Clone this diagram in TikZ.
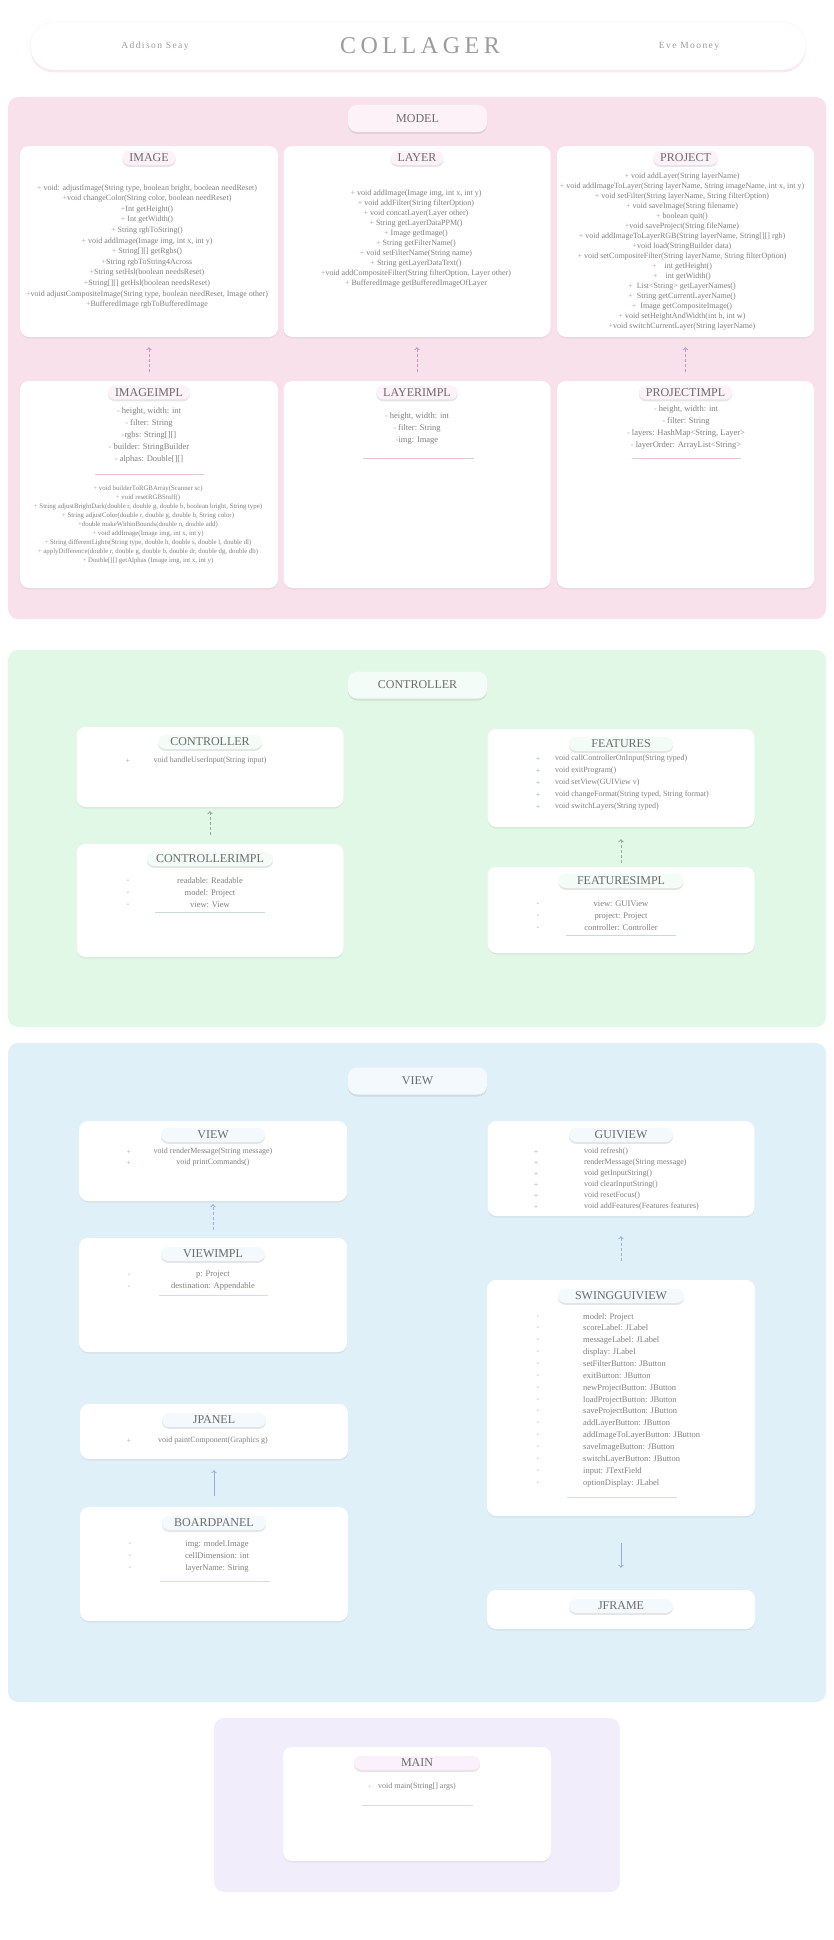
\documentclass[tikz,border=0pt]{standalone}
\usepackage{fontspec}
\setmainfont{Liberation Serif}
\newfontfamily\spacedfont[LetterSpace=19]{Liberation Serif}
\newfontfamily\authorfont[LetterSpace=15]{Liberation Serif}
\usepackage{xcolor}
\usetikzlibrary{shapes.geometric,arrows,shadows}

\definecolor{modelbg}{HTML}{F9E1EC}
\definecolor{modelpill}{HTML}{FDF2F8}
\definecolor{modelmark}{HTML}{C295BE}
\definecolor{modelline}{HTML}{E2C6DE}
\definecolor{ctrlbg}{HTML}{E1F8E6}
\definecolor{ctrlpill}{HTML}{F4FCF7}
\definecolor{ctrlmark}{HTML}{8DB099}
\definecolor{ctrlline}{HTML}{C9DCD3}
\definecolor{viewbg}{HTML}{E0F0F9}
\definecolor{viewpill}{HTML}{F4F9FD}
\definecolor{viewmark}{HTML}{9AABE6}
\definecolor{viewline}{HTML}{D6DCEF}
\definecolor{mainbg}{HTML}{F1EDFB}
\definecolor{mainpill}{HTML}{FAF1FC}
\definecolor{mainmark}{HTML}{D7C2F2}
\definecolor{mainline}{HTML}{E3D6EC}
\definecolor{textgrey}{HTML}{808080}
\definecolor{titlegrey}{HTML}{6B6B6B}
\definecolor{headgrey}{HTML}{9C9C9C}

\newcommand\pubmark{\textcolor{modelmark}{+}}
\newcommand\privmark{\textcolor{modelmark}{-}}

\tikzstyle{headerbox}=[rectangle,rounded corners=24pt,fill=white,draw=modelbg!50,minimum width=776pt,minimum height=48pt,drop shadow={fill=modelbg,opacity=0.8,shadow xshift=0pt,shadow yshift=-2.5pt}]
\tikzstyle{authorname}=[text=headgrey,font=\authorfont\fontsize{9.5}{9.5}\selectfont]
\tikzstyle{section}=[rectangle,rounded corners=10pt,inner sep=0pt]
\tikzstyle{sectionlabel}=[rectangle,rounded corners=9pt,minimum width=139pt,minimum height=27pt,inner sep=0pt,text=titlegrey,font=\fontsize{12}{12}\selectfont,drop shadow={opacity=0.18,shadow xshift=0pt,shadow yshift=-2pt}]
\tikzstyle{classbox}=[rectangle,rounded corners=9pt,fill=white,inner sep=0pt,drop shadow={opacity=0.12,shadow xshift=0pt,shadow yshift=-1.5pt}]
\tikzstyle{classname}=[rectangle,rounded corners=7pt,minimum height=14pt,inner xsep=7pt,inner ysep=0pt,text=titlegrey,font=\fontsize{12}{12}\selectfont,drop shadow={opacity=0.2,shadow xshift=0pt,shadow yshift=-2pt}]
\tikzstyle{members}=[align=center,inner sep=0pt,text=textgrey,font=\fontsize{8}{12}\selectfont]
\tikzstyle{listing}=[members,align=left,anchor=west]
\tikzstyle{marks}=[align=center,inner sep=0pt,font=\fontsize{8}{12}\selectfont]
\tikzstyle{arrow}=[->,>=to,line width=1pt]
\tikzstyle{implarrow}=[arrow,dash pattern=on 3pt off 2pt]
\tikzstyle{sepline}=[line width=0.6pt]

\begin{document}
\begin{tikzpicture}[x=1pt,y=-1pt]
\useasboundingbox (0,0) rectangle (833,1940);

% header
\node (header)[headerbox] at (418,46) {};
\node (collager)[text=headgrey,font=\spacedfont\fontsize{24}{24}\selectfont] at (420,46) {COLLAGER};
\node (author1)[authorname] at (155,46) {Addison Seay};
\node (author2)[authorname] at (689,46) {Eve Mooney};

% model
\node (modelarea)[section,fill=modelbg,minimum width=818pt,minimum height=522pt] at (417,358) {};
\node (modellabel)[sectionlabel,fill=modelpill] at (417.5,118.5) {MODEL};
\node (image)[classbox,minimum width=258pt,minimum height=191pt] at (149,241.5) {};
\node (layer)[classbox,minimum width=267pt,minimum height=191pt] at (417,241.5) {};
\node (project)[classbox,minimum width=257pt,minimum height=191pt] at (685.5,241.5) {};
\node (imageimpl)[classbox,minimum width=258pt,minimum height=207pt,below of=image,node distance=243pt] {};
\node (layerimpl)[classbox,minimum width=267pt,minimum height=207pt,below of=layer,node distance=243pt] {};
\node (projectimpl)[classbox,minimum width=257pt,minimum height=207pt,below of=project,node distance=243pt] {};
\node (imagename)[classname,fill=modelpill] at ([yshift=-12pt]image.north) {IMAGE};
\node (layername)[classname,fill=modelpill] at ([yshift=-12pt]layer.north) {LAYER};
\node (projectname)[classname,fill=modelpill] at ([yshift=-12pt]project.north) {PROJECT};
\node (imageimplname)[classname,fill=modelpill] at ([yshift=-11.5pt]imageimpl.north) {IMAGEIMPL};
\node (layerimplname)[classname,fill=modelpill] at ([yshift=-11.5pt]layerimpl.north) {LAYERIMPL};
\node (projectimplname)[classname,fill=modelpill] at ([yshift=-11.5pt]projectimpl.north) {PROJECTIMPL};

\node (imageops)[members,font=\fontsize{8}{10.6}\selectfont] at (147,246.5) {\pubmark{} void: adjustImage(String type, boolean bright, boolean needReset)\\
\pubmark void changeColor(String color, boolean needReset)\\
\pubmark Int getHeight()\\
\pubmark{} Int getWidth()\\
\pubmark{} String rgbToString()\\
\pubmark{} void addImage(Image img, int x, int y)\\
\pubmark{} String[][] getRgbs()\\
\pubmark String rgbToString4Across\\
\pubmark String setHsl(boolean needsReset)\\
\pubmark String[][] getHsl(boolean needsReset)\\
\pubmark void adjustCompositeImage(String type, boolean needReset, Image other)\\
\pubmark BufferedImage rgbToBufferedImage};
\node (layerops)[members,font=\fontsize{8}{10}\selectfont] at (416,239) {\pubmark{} void addImage(Image img, int x, int y)\\
\pubmark{} void addFilter(String filterOption)\\
\pubmark{} void concatLayer(Layer other)\\
\pubmark{} String getLayerDataPPM()\\
\pubmark{} Image getImage()\\
\pubmark{} String getFilterName()\\
\pubmark{} void setFilterName(String name)\\
\pubmark{} String getLayerDataText()\\
\pubmark void addCompositeFilter(String filterOption, Layer other)\\
\pubmark{} BufferedImage getBufferedImageOfLayer};
\node (projectops)[members,font=\fontsize{8}{10}\selectfont] at (682,252) {\pubmark{} void addLayer(String layerName)\\
\pubmark{} void addImageToLayer(String layerName, String imageName, int x, int y)\\
\pubmark{} void setFilter(String layerName, String filterOption)\\
\pubmark{} void saveImage(String filename)\\
\pubmark{} boolean quit()\\
\pubmark void saveProject(String fileName)\\
\pubmark{} void addImageToLayerRGB(String layerName, String[][] rgb)\\
\pubmark void load(StringBuilder data)\\
\pubmark{} void setCompositeFilter(String layerName, String filterOption)\\
\pubmark\quad int getHeight()\\
\pubmark\quad int getWidth()\\
\pubmark\enspace List<String> getLayerNames()\\
\pubmark\enspace String getCurrentLayerName()\\
\pubmark\enspace Image getCompositeImage()\\
\pubmark{} void setHeightAndWidth(int h, int w)\\
\pubmark void switchCurrentLayer(String layerName)};

\node (imageimplattrs)[members,font=\fontsize{8.5}{12}\selectfont] at (149,435) {\privmark{} height, width: int\\
\privmark{} filter: String\\
\privmark rgbs: String[][]\\
\privmark{} builder: StringBuilder\\
\privmark{} alphas: Double[][]};
\draw [sepline,modelline] (95,474) -- (204,474);
\node (imageimplops)[members,font=\fontsize{6.8}{9}\selectfont] at (148,525) {\pubmark{} void builderToRGBArray(Scanner sc)\\
\pubmark{} void resetRGBStuff()\\
\pubmark{} String adjustBrightDark(double r, double g, double b, boolean bright, String type)\\
\pubmark{} String adjustColor(double r, double g, double b, String color)\\
\pubmark double makeWithinBounds(double n, double add)\\
\pubmark{} void addImage(Image img, int x, int y)\\
\pubmark{} String differentLights(String type, double h, double s, double l, double dl)\\
\pubmark{} applyDifference(double r, double g, double b, double dr, double dg, double db)\\
\pubmark{} Double[][] getAlphas (Image img, int x, int y)};
\node (layerimplattrs)[members,font=\fontsize{8.5}{12}\selectfont] at (417,428) {\privmark{} height, width: int\\
\privmark{} filter: String\\
\privmark img: Image};
\draw [sepline,modelline] (363,458) -- (474,458);
\node (projectimplattrs)[members,font=\fontsize{8.5}{12}\selectfont] at (686,427) {\privmark{} height, width: int\\
\privmark{} filter: String\\
\privmark{} layers: HashMap<String, Layer>\\
\privmark{} layerOrder: ArrayList<String>};
\draw [sepline,modelline] (632,458) -- (741,458);

\draw [implarrow,draw=modelmark,shorten <=9pt,shorten >=10pt] (imageimpl) -- (image);
\draw [implarrow,draw=modelmark,shorten <=9pt,shorten >=10pt] (layerimpl) -- (layer);
\draw [implarrow,draw=modelmark,shorten <=9pt,shorten >=10pt] (projectimpl) -- (project);

% controller
\node (ctrlarea)[section,fill=ctrlbg,minimum width=818pt,minimum height=377pt] at (417,838.5) {};
\node (ctrllabel)[sectionlabel,fill=ctrlpill] at (417.5,685) {CONTROLLER};
\node (controller)[classbox,minimum width=267pt,minimum height=80pt] at (210,767) {};
\node (controllerimpl)[classbox,minimum width=267pt,minimum height=113pt,below of=controller,node distance=133.5pt] {};
\node (features)[classbox,minimum width=267pt,minimum height=98pt] at (621,778) {};
\node (featuresimpl)[classbox,minimum width=267pt,minimum height=86pt,below of=features,node distance=132pt] {};
\node (controllername)[classname,fill=ctrlpill,minimum width=104pt] at ([yshift=-15pt]controller.north) {CONTROLLER};
\node (controllerimplname)[classname,fill=ctrlpill,minimum width=126pt] at ([yshift=-15pt]controllerimpl.north) {CONTROLLERIMPL};
\node (featuresname)[classname,fill=ctrlpill,minimum width=104pt] at ([yshift=-15pt]features.north) {FEATURES};
\node (featuresimplname)[classname,fill=ctrlpill,minimum width=125pt] at ([yshift=-14pt]featuresimpl.north) {FEATURESIMPL};

\node (controllermarks)[marks,text=ctrlmark] at (128,761) {+};
\node (controllerops)[members] at (210,761) {void handleUserInput(String input)};
\node (controllerimplmarks)[marks,text=ctrlmark] at (128,893) {-\\-\\-};
\node (controllerimplattrs)[members,font=\fontsize{8.5}{12}\selectfont] at (210,893) {readable: Readable\\model: Project\\view: View};
\draw [sepline,ctrlline] (155,912) -- (265,912);
\node (featuresmarks)[marks,text=ctrlmark] at (538,783) {+\\+\\+\\+\\+};
\node (featuresops)[listing] at (555,783) {void callControllerOnInput(String typed)\\
void exitProgram()\\
void setView(GUIView v)\\
void changeFormat(String typed, String format)\\
void switchLayers(String typed)};
\node (featuresimplmarks)[marks,text=ctrlmark] at (538,916) {-\\-\\-};
\node (featuresimplattrs)[members,font=\fontsize{8.5}{12}\selectfont] at (621,916) {view: GUIView\\project: Project\\controller: Controller};
\draw [sepline,ctrlline] (566,935) -- (676,935);

\draw [implarrow,draw=ctrlmark,shorten <=9pt,shorten >=4pt] (controllerimpl) -- (controller);
\draw [implarrow,draw=ctrlmark,shorten <=4pt,shorten >=12pt] (featuresimpl) -- (features);

% view
\node (viewarea)[section,fill=viewbg,minimum width=818pt,minimum height=659pt] at (417,1372.5) {};
\node (viewlabel)[sectionlabel,fill=viewpill] at (417.5,1081) {VIEW};
\node (view)[classbox,minimum width=268pt,minimum height=80pt] at (213,1161) {};
\node (viewimpl)[classbox,minimum width=268pt,minimum height=114pt,below of=view,node distance=134pt] {};
\node (guiview)[classbox,minimum width=267pt,minimum height=95pt] at (621,1168.5) {};
\node (swingguiview)[classbox,minimum width=268pt,minimum height=236pt,below of=guiview,node distance=229.5pt] {};
\node (jpanel)[classbox,minimum width=268pt,minimum height=55pt] at (214,1431.5) {};
\node (boardpanel)[classbox,minimum width=268pt,minimum height=114pt,below of=jpanel,node distance=132.5pt] {};
\node (jframe)[classbox,minimum width=268pt,minimum height=39pt,below of=swingguiview,node distance=211.5pt] {};
\node (viewname)[classname,fill=viewpill,minimum width=104pt] at ([yshift=-14pt]view.north) {VIEW};
\node (viewimplname)[classname,fill=viewpill,minimum width=104pt] at ([yshift=-16pt]viewimpl.north) {VIEWIMPL};
\node (guiviewname)[classname,fill=viewpill,minimum width=104pt] at ([yshift=-14pt]guiview.north) {GUIVIEW};
\node (swingguiviewname)[classname,fill=viewpill,minimum width=126pt] at ([yshift=-16pt]swingguiview.north) {SWINGGUIVIEW};
\node (jpanelname)[classname,fill=viewpill,minimum width=104pt] at ([yshift=-16pt]jpanel.north) {JPANEL};
\node (boardpanelname)[classname,fill=viewpill,minimum width=104pt] at ([yshift=-16pt]boardpanel.north) {BOARDPANEL};
\node (jframename)[classname,fill=viewpill,minimum width=104pt] at ([yshift=-16pt]jframe.north) {JFRAME};

\node (viewmarks)[marks,text=viewmark,font=\fontsize{8}{11}\selectfont] at (129,1157.5) {+\\+};
\node (viewops)[members,font=\fontsize{8}{11}\selectfont] at (213,1157.5) {void renderMessage(String message)\\void printCommands()};
\node (viewimplmarks)[marks,text=viewmark] at (129,1281) {-\\-};
\node (viewimplattrs)[members,font=\fontsize{8.5}{12}\selectfont] at (213,1281) {p: Project\\destination: Appendable};
\draw [sepline,viewline] (159,1295) -- (268,1295);
\node (guiviewmarks)[marks,text=viewmark,font=\fontsize{8}{11}\selectfont] at (536,1179.5) {+\\+\\+\\+\\+\\+};
\node (guiviewops)[listing,font=\fontsize{8}{11}\selectfont] at (584,1179.5) {void refresh()\\
renderMessage(String message)\\
void getInputString()\\
void clearInputString()\\
void resetFocus()\\
void addFeatures(Features features)};
\node (swingmarks)[marks,text=viewmark,font=\fontsize{8}{11.86}\selectfont] at (538,1400) {-\\-\\-\\-\\-\\-\\-\\-\\-\\-\\-\\-\\-\\-\\-};
\node (swingattrs)[listing,font=\fontsize{8.5}{11.86}\selectfont] at (583,1400) {model: Project\\
scoreLabel: JLabel\\
messageLabel: JLabel\\
display: JLabel\\
setFilterButton: JButton\\
exitButton: JButton\\
newProjectButton: JButton\\
loadProjectButton: JButton\\
saveProjectButton: JButton\\
addLayerButton: JButton\\
addImageToLayerButton: JButton\\
saveImageButton: JButton\\
switchLayerButton: JButton\\
input: JTextField\\
optionDisplay: JLabel};
\draw [sepline,viewline] (567,1497) -- (677,1497);
\node (jpanelmarks)[marks,text=viewmark] at (129,1441) {+};
\node (jpanelops)[members] at (213,1441) {void paintComponent(Graphics g)};
\node (boardmarks)[marks,text=viewmark] at (130,1556) {-\\-\\-};
\node (boardattrs)[members,font=\fontsize{8.5}{12}\selectfont] at (217,1556) {img: model.Image\\cellDimension: int\\layerName: String};
\draw [sepline,viewline] (160,1581) -- (270,1581);

\draw [implarrow,draw=viewmark,shorten <=8pt,shorten >=3pt] (viewimpl) -- (view);
\draw [implarrow,draw=viewmark,shorten <=19pt,shorten >=20pt] (swingguiview) -- (guiview);
\draw [arrow,draw=viewmark,shorten <=11pt,shorten >=11pt] (boardpanel) -- (jpanel);
\draw [arrow,draw=viewmark,shorten <=27pt,shorten >=22pt] (swingguiview) -- (jframe);

% main
\node (mainarea)[section,fill=mainbg,minimum width=406pt,minimum height=174pt] at (417,1805) {};
\node (main)[classbox,minimum width=268pt,minimum height=114pt] at (417,1804) {};
\node (mainname)[classname,fill=mainpill,minimum width=126pt] at ([yshift=-16pt]main.north) {MAIN};
\node (mainmarks)[marks,text=mainmark] at (370,1787) {+};
\node (mainops)[listing] at (378,1787) {void main(String[] args)};
\draw [sepline,mainline] (362,1805) -- (473,1805);
\end{tikzpicture}
\end{document}
